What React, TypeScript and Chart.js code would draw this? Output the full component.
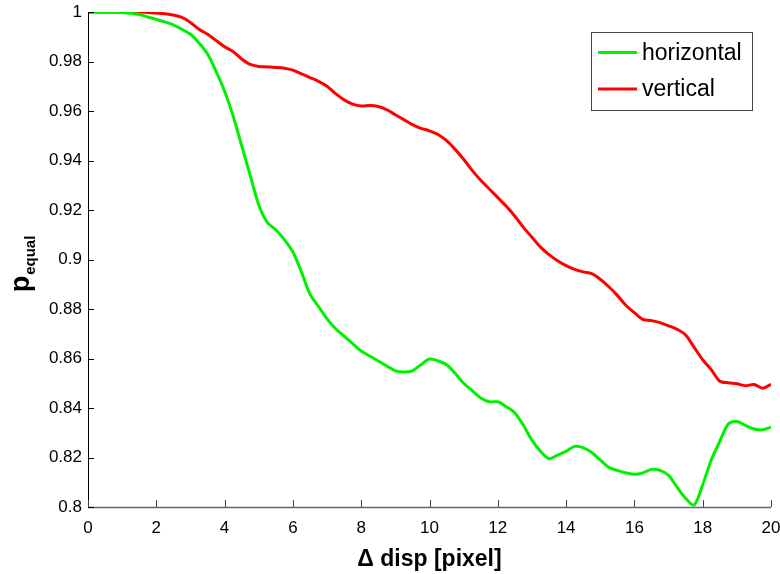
import React, { useEffect, useRef } from "react";
import { Chart, registerables } from "chart.js";

Chart.register(...registerables);

const xValues = [
  0, 0.25, 0.5, 0.75, 1, 1.25, 1.5, 1.75, 2, 2.25, 2.5, 2.75, 3, 3.25, 3.5, 3.75,
  4, 4.25, 4.5, 4.75, 5, 5.25, 5.5, 5.75, 6, 6.25, 6.5, 6.75, 7, 7.25, 7.5, 7.75,
  8, 8.25, 8.5, 8.75, 9, 9.25, 9.5, 9.75, 10, 10.25, 10.5, 10.75, 11, 11.25, 11.5, 11.75,
  12, 12.25, 12.5, 12.75, 13, 13.25, 13.5, 13.75, 14, 14.25, 14.5, 14.75, 15, 15.25, 15.5, 15.75,
  16, 16.25, 16.5, 16.75, 17, 17.25, 17.5, 17.75, 18, 18.25, 18.5, 18.75, 19, 19.25, 19.5, 19.75, 20,
];

const horizontal = [
  1.0, 1.0, 1.0, 1.0, 0.9998, 0.9995, 0.999, 0.998, 0.997, 0.996, 0.9948, 0.993, 0.991, 0.9875, 0.983, 0.976,
  0.968, 0.958, 0.946, 0.934, 0.922, 0.915, 0.912, 0.908, 0.903, 0.895, 0.886, 0.881, 0.876, 0.872, 0.869, 0.866,
  0.863, 0.861, 0.859, 0.857, 0.855, 0.8545, 0.855, 0.8575, 0.8598, 0.859, 0.8575, 0.854, 0.85, 0.847, 0.844, 0.8425,
  0.8425, 0.8405, 0.838, 0.833, 0.827, 0.8225, 0.8195, 0.821, 0.8225, 0.8245, 0.824, 0.822, 0.819, 0.816, 0.8148, 0.8138,
  0.8132, 0.8138, 0.8152, 0.8148, 0.8128, 0.808, 0.8035, 0.8008, 0.809, 0.819, 0.8265, 0.8335, 0.8345, 0.833, 0.8315, 0.8312, 0.8322,
];

const vertical = [
  1.0, 1.0, 1.0, 1.0, 1.0, 1.0, 1.0, 0.9998, 0.9996, 0.9993, 0.9988, 0.9978, 0.9958, 0.993, 0.991, 0.9885,
  0.986, 0.984, 0.981, 0.9788, 0.978, 0.9778, 0.9776, 0.9773, 0.9765, 0.975, 0.9735, 0.972, 0.97, 0.967, 0.9645, 0.9628,
  0.962, 0.9622, 0.9618, 0.9605, 0.9585, 0.9565, 0.9545, 0.953, 0.952, 0.9505, 0.948, 0.9445, 0.9405, 0.936, 0.932, 0.9285,
  0.925, 0.9215, 0.9175, 0.913, 0.909, 0.905, 0.902, 0.8995, 0.8975, 0.896, 0.895, 0.8943, 0.892, 0.889, 0.8855, 0.8815,
  0.8785, 0.8758, 0.8753, 0.8745, 0.8732, 0.8718, 0.8695, 0.8645, 0.8595, 0.8555, 0.8508, 0.8502, 0.8498, 0.849, 0.8495, 0.848, 0.8496,
];

const seriesLabels = ["horizontal", "vertical"];
const xTitle = "\u0394 disp [pixel]";
const yTitleMain = "p";
const yTitleSub = "equal";

const FONT = "'Liberation Sans', Arial, Helvetica, sans-serif";

const decorPlugin = {
  id: "decor",
  afterDraw(chart: any) {
    const ctx = chart.ctx as CanvasRenderingContext2D;
    const { left, right, top, bottom } = chart.chartArea;
    const xs = chart.scales.x;
    const ys = chart.scales.y;
    ctx.save();
    // axis lines
    ctx.strokeStyle = "#000";
    ctx.lineWidth = 1;
    ctx.beginPath();
    ctx.moveTo(left + 0.5, top);
    ctx.lineTo(left + 0.5, bottom);
    ctx.stroke();
    ctx.strokeStyle = "#666";
    ctx.lineWidth = 1.5;
    ctx.beginPath();
    ctx.moveTo(left, bottom + 0.5);
    ctx.lineTo(right, bottom + 0.5);
    ctx.stroke();
    // inward ticks
    ctx.strokeStyle = "#000";
    ctx.lineWidth = 1;
    ys.ticks.forEach((t: any) => {
      const py = Math.round(ys.getPixelForValue(t.value)) + 0.5;
      ctx.beginPath();
      ctx.moveTo(left, py);
      ctx.lineTo(left + 6, py);
      ctx.stroke();
    });
    ctx.strokeStyle = "#444";
    xs.ticks.forEach((t: any) => {
      const px = Math.round(xs.getPixelForValue(t.value)) + 0.5;
      ctx.beginPath();
      ctx.moveTo(px, bottom);
      ctx.lineTo(px, bottom - 7);
      ctx.stroke();
    });
    // x title
    ctx.fillStyle = "#000";
    ctx.font = `bold 23px ${FONT}`;
    ctx.textAlign = "center";
    ctx.textBaseline = "alphabetic";
    ctx.fillText(xTitle, (left + right) / 2, 566);
    // y title with subscript
    ctx.translate(29, 264);
    ctx.rotate(-Math.PI / 2);
    ctx.font = `bold 27px ${FONT}`;
    const wMain = ctx.measureText(yTitleMain).width;
    ctx.font = `bold 15px ${FONT}`;
    const wSub = ctx.measureText(yTitleSub).width;
    const total = wMain + 1 + wSub;
    ctx.textAlign = "left";
    ctx.font = `bold 27px ${FONT}`;
    ctx.fillText(yTitleMain, -total / 2, 0);
    ctx.font = `bold 15px ${FONT}`;
    ctx.fillText(yTitleSub, -total / 2 + wMain + 1, 6);
    ctx.restore();

    // legend
    ctx.save();
    const bx = 591.5, by = 32.5, bw = 161, bh = 78;
    ctx.fillStyle = "#fff";
    ctx.fillRect(bx, by, bw, bh);
    ctx.strokeStyle = "#444";
    ctx.lineWidth = 1;
    ctx.strokeRect(bx, by, bw, bh);
    ctx.font = `23px ${FONT}`;
    ctx.textAlign = "left";
    ctx.textBaseline = "middle";
    chart.data.datasets.forEach((ds: any, i: number) => {
      const cy = 52.5 + i * 36.5;
      ctx.strokeStyle = ds.borderColor;
      ctx.lineWidth = 3;
      ctx.beginPath();
      ctx.moveTo(598, cy);
      ctx.lineTo(637, cy);
      ctx.stroke();
      ctx.fillStyle = "#000";
      ctx.fillText(ds.label, 642, cy + 1);
    });
    ctx.restore();
  },
};

export default function App() {
  const ref = useRef<HTMLCanvasElement | null>(null);
  useEffect(() => {
    document.body.style.margin = "0";
    const canvas = ref.current!;
    const chart = new Chart(canvas, {
      type: "line",
      data: {
        datasets: [
          {
            label: seriesLabels[0],
            data: xValues.map((x, i) => ({ x, y: horizontal[i] })),
            borderColor: "rgb(0,240,0)",
            borderWidth: 3,
            pointRadius: 0,
            tension: 0.3,
            fill: false,
            order: 0,
          },
          {
            label: seriesLabels[1],
            data: xValues.map((x, i) => ({ x, y: vertical[i] })),
            borderColor: "rgb(255,0,0)",
            borderWidth: 3,
            pointRadius: 0,
            tension: 0.3,
            fill: false,
            order: 1,
          },
        ],
      },
      options: {
        animation: false,
        responsive: false,
        devicePixelRatio: 1,
        layout: { padding: { left: 0, right: 9, top: 12, bottom: 0 } },
        plugins: {
          legend: { display: false },
          tooltip: { enabled: false },
        },
        scales: {
          x: {
            type: "linear",
            min: 0,
            max: 20,
            grid: { display: false, drawTicks: false },
            border: { display: false },
            ticks: {
              stepSize: 2,
              color: "#000",
              font: { family: FONT, size: 17 },
              padding: 11,
              maxRotation: 0,
            },
            afterFit(scale: any) {
              scale.height = 67;
              scale.paddingLeft = 0;
              scale.paddingRight = 0;
            },
          },
          y: {
            type: "linear",
            min: 0.8,
            max: 1,
            grid: { display: false, drawTicks: false },
            border: { display: false },
            ticks: {
              stepSize: 0.02,
              color: "#000",
              font: { family: FONT, size: 17 },
              padding: 6,
              callback: (v: any) => String(Number(Number(v).toFixed(2))),
            },
            afterFit(scale: any) {
              scale.width = 88;
              scale.paddingTop = 0;
              scale.paddingBottom = 0;
            },
          },
        },
      },
      plugins: [decorPlugin],
    });
    return () => chart.destroy();
  }, []);
  return (
    <div style={{ width: 780, height: 574 }}>
      <canvas ref={ref} width={780} height={574} style={{ display: "block" }} />
    </div>
  );
}
